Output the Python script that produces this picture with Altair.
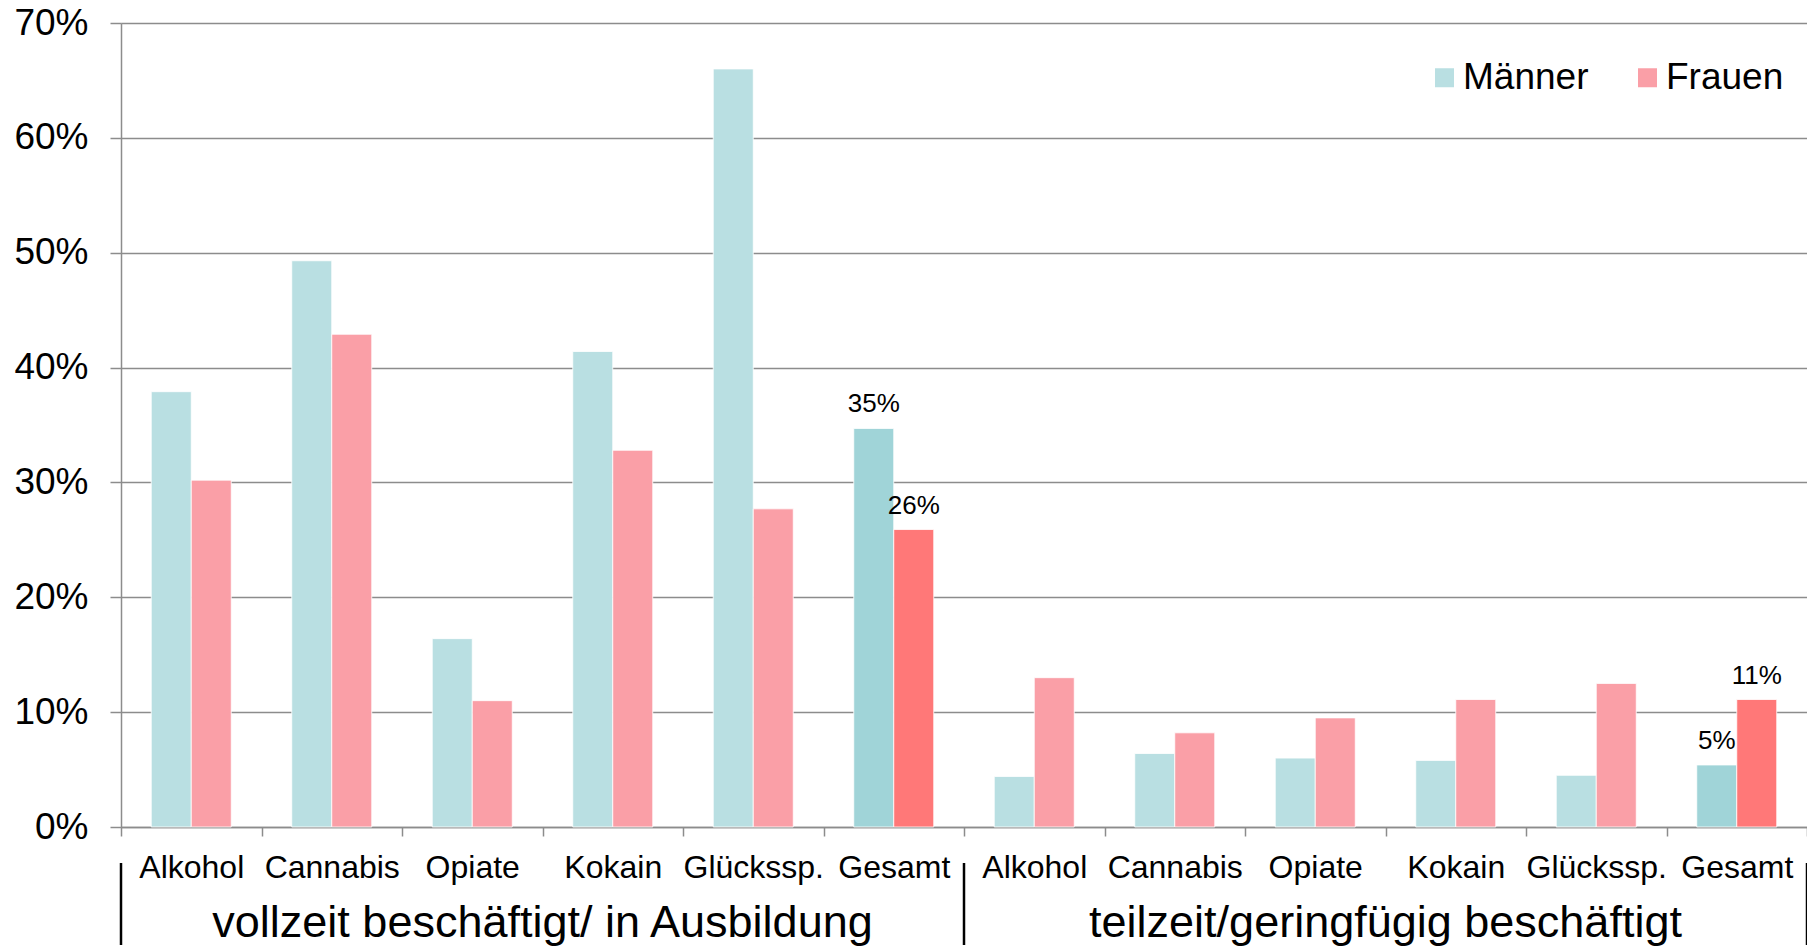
import altair as alt
import pandas as pd

categories = ["Alkohol", "Cannabis", "Opiate", "Kokain", "Glückssp.", "Gesamt"]
groups = ["vollzeit beschäftigt/ in Ausbildung", "teilzeit/geringfügig beschäftigt"]
group_keys = ["v", "t"]
maenner_vollzeit = [37.9, 49.3, 16.4, 41.4, 66.0, 34.7]
frauen_vollzeit = [30.2, 42.9, 11.0, 32.8, 27.7, 25.9]
maenner_teilzeit = [4.4, 6.4, 6.0, 5.8, 4.5, 5.4]
frauen_teilzeit = [13.0, 8.2, 9.5, 11.1, 12.5, 11.1]
sexes = ["Männer", "Frauen"]

colors = ["#B9DFE2", "#FA9FA7", "#A0D4D8", "#FF7878"]
color_domain = ["Männer", "Frauen", "Männer Gesamt", "Frauen Gesamt"]

keys = [f"{g}:{c}" for g in group_keys for c in categories]

rows = []
for g, m_vals, f_vals in [("v", maenner_vollzeit, frauen_vollzeit), ("t", maenner_teilzeit, frauen_teilzeit)]:
    for c, m, f in zip(categories, m_vals, f_vals):
        for s, v in [("Männer", m), ("Frauen", f)]:
            ck = s + (" Gesamt" if c == "Gesamt" else "")
            rows.append({"key": f"{g}:{c}", "sex": s, "value": v / 100, "ckey": ck, "cat": c})
df = pd.DataFrame(rows)

FONT = "Liberation Sans"
W, H = 1686, 804

xscale = alt.Scale(domain=keys, paddingInner=0, paddingOuter=0)
xoff = alt.XOffset("sex:N", sort=sexes, scale=alt.Scale(domain=sexes, paddingInner=0, paddingOuter=0.756))

bars = alt.Chart(df).mark_bar(stroke="white", strokeWidth=0.8).encode(
    x=alt.X("key:N", scale=xscale, sort=keys, title=None,
            axis=alt.Axis(labelExpr="slice(datum.label, 2)", labelAngle=0, tickBand="extent",
                          tickSize=9, labelPadding=16, labelFontSize=32, labelColor="black",
                          labelFont=FONT, domainColor="#8c8c8c", domainWidth=1.5,
                          tickColor="#8c8c8c", tickWidth=1.5, grid=False)),
    xOffset=xoff,
    y=alt.Y("value:Q", scale=alt.Scale(domain=[0, 0.7], nice=False), title=None,
            axis=alt.Axis(format="%", values=[0, 0.1, 0.2, 0.3, 0.4, 0.5, 0.6, 0.7],
                          labelFontSize=37, labelFont=FONT, labelColor="black", labelPadding=22,
                          tickSize=11, tickColor="#8c8c8c", tickWidth=1.5,
                          domainColor="#8c8c8c", domainWidth=1.5,
                          grid=True, gridColor="#8c8c8c", gridWidth=1.5)),
    color=alt.Color("ckey:N", scale=alt.Scale(domain=color_domain, range=colors), title=None,
                    legend=alt.Legend(values=sexes, orient="none", direction="horizontal",
                                      legendX=1305, legendY=36, symbolType="square", symbolSize=361,
                                      symbolStrokeWidth=0, labelFontSize=37, labelFont=FONT,
                                      labelColor="black", labelOffset=0, columnPadding=40,
                                      padding=0, symbolOpacity=1)),
)

gesamt = df[df["cat"] == "Gesamt"]
labels = alt.Chart(gesamt).mark_text(fontSize=26, font=FONT, color="black", dy=-24, baseline="middle").encode(
    x=alt.X("key:N", scale=xscale, sort=keys),
    xOffset=xoff,
    y=alt.Y("value:Q"),
    text=alt.Text("value:Q", format=".0%"),
)

group_df = pd.DataFrame({"anchor": [f"{g}:Opiate" for g in group_keys], "label": groups})
group_text = alt.Chart(group_df).mark_text(fontSize=45, font=FONT, color="black", baseline="alphabetic").encode(
    x=alt.X("anchor:N", scale=xscale, sort=keys, bandPosition=1),
    y=alt.value(914),
    text="label:N",
)

sep_left = pd.DataFrame({"anchor": [f"{g}:Alkohol" for g in group_keys]})
sep_right = pd.DataFrame({"anchor": [f"{group_keys[-1]}:Gesamt"]})
rule_left = alt.Chart(sep_left).mark_rule(color="black", strokeWidth=2.5).encode(
    x=alt.X("anchor:N", scale=xscale, sort=keys, bandPosition=0),
    y=alt.value(840), y2=alt.value(922),
)
rule_right = alt.Chart(sep_right).mark_rule(color="black", strokeWidth=2.5).encode(
    x=alt.X("anchor:N", scale=xscale, sort=keys, bandPosition=1),
    y=alt.value(840), y2=alt.value(922),
)

chart = alt.layer(bars, labels, group_text, rule_left, rule_right).properties(
    width=W, height=H,
    padding={"left": 113, "top": 15, "right": 0, "bottom": 120},
    autosize=alt.AutoSizeParams(type="none"),
).configure_view(stroke="transparent").configure(font=FONT)

chart.save("out.html", embed_options={"renderer": "svg", "actions": False})
